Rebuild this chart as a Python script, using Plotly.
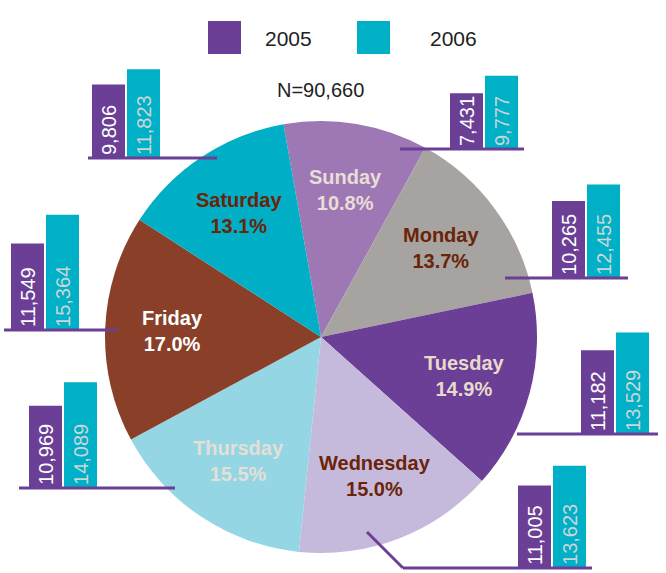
import math
import plotly.graph_objects as go

# ---------------- data ----------------
days = ["Sunday", "Monday", "Tuesday", "Wednesday", "Thursday", "Friday", "Saturday"]
share_pct = [10.8, 13.7, 14.9, 15.0, 15.5, 17.0, 13.1]
count_2005 = [7431, 10265, 11182, 11005, 10969, 11549, 9806]
count_2006 = [9777, 12455, 13529, 13623, 14089, 15364, 11823]
years = ["2005", "2006"]
total_n = 90660

# ---------------- style / layout ----------------
W, H = 666, 573
FONT = "Arial, Liberation Sans, sans-serif"
C2005 = "#6B3F96"
C2006 = "#00B0C7"
slice_colors = ["#9E77B5", "#A7A3A1", "#6B3F96", "#C6BADC", "#94D6E3", "#8A4028", "#00AFC6"]
label_colors = ["#E8DED4", "#6A2409", "#E6DBCA", "#6A2409", "#E4DFD7", "#FFFFFF", "#6A2409"]
PIE_CX, PIE_CY, PIE_R = 321, 337, 216
PIE_ROT = -10
LABEL_RF = 0.69

# bar-pair placement (pixel left edge, baseline) and leader-line points
pair_pos = {
    "Sunday":    dict(x0=449, base=149, line=[(400, 149), (524, 149)]),
    "Monday":    dict(x0=551, base=278, line=[(505, 278), (628, 278)]),
    "Tuesday":   dict(x0=580, base=434, line=[(517, 434), (658, 434)]),
    "Wednesday": dict(x0=517, base=568, line=[(367, 532), (403, 568), (592, 568)]),
    "Thursday":  dict(x0=28,  base=488, line=[(19, 488), (175, 488)]),
    "Friday":    dict(x0=10,  base=330, line=[(4, 330), (117, 330)]),
    "Saturday":  dict(x0=91,  base=158, line=[(88, 158), (217, 158)]),
}
PAIR_W = 70
PX_PER_UNIT = 0.0075
YMAX = 16000
BAR_H = YMAX * PX_PER_UNIT


def px(x):
    return x / W


def py(y):
    return 1 - y / H


fig = go.Figure()
layout_axes = {}

for i, d in enumerate(days):
    n = i + 1
    sfx = "" if n == 1 else str(n)
    pos = pair_pos[d]
    vals = [count_2005[i], count_2006[i]]
    fig.add_trace(go.Bar(
        x=years, y=vals,
        xaxis="x" + sfx, yaxis="y" + sfx,
        marker=dict(color=[C2005, C2006], line=dict(width=0)),
        text=[f"{v:,}" for v in vals],
        textposition="inside", insidetextanchor="start", textangle=-90,
        textfont=dict(family=FONT, size=20, color=["#FFFFFF", "#CDD5D5"]),
        constraintext="none", cliponaxis=False,
        showlegend=False, hoverinfo="skip",
    ))
    layout_axes["xaxis" + sfx] = dict(
        domain=[px(pos["x0"]), px(pos["x0"] + PAIR_W)], range=[-0.5, 1.5],
        visible=False, fixedrange=True, anchor="y" + sfx, type="category")
    layout_axes["yaxis" + sfx] = dict(
        domain=[py(pos["base"]), py(pos["base"] - BAR_H)], range=[0, YMAX],
        visible=False, fixedrange=True, anchor="x" + sfx)

fig.add_trace(go.Pie(
    labels=days, values=share_pct, sort=False, direction="clockwise",
    rotation=PIE_ROT, textinfo="none", hoverinfo="label+percent",
    marker=dict(colors=slice_colors, line=dict(width=0)),
    domain=dict(x=[px(PIE_CX - PIE_R), px(PIE_CX + PIE_R)],
                y=[py(PIE_CY + PIE_R), py(PIE_CY - PIE_R)]),
    showlegend=False,
))

annotations = []
shapes = []

# slice labels at slice mid-angles
total = sum(share_pct)
cum = 0.0
for i, d in enumerate(days):
    mid = PIE_ROT + (cum + share_pct[i] / 2) / total * 360
    cum += share_pct[i]
    a = math.radians(mid)
    lx = PIE_CX + LABEL_RF * PIE_R * math.sin(a)
    ly = PIE_CY - LABEL_RF * PIE_R * math.cos(a)
    annotations.append(dict(
        x=px(lx), y=py(ly), xref="paper", yref="paper", showarrow=False,
        xanchor="center", yanchor="middle",
        text=f"<b>{d}</b><br><b>{share_pct[i]:.1f}%</b>",
        font=dict(family=FONT, size=20, color=label_colors[i]), align="center"))

# leader lines
for d in days:
    pts = pair_pos[d]["line"]
    for (x0, y0), (x1, y1) in zip(pts[:-1], pts[1:]):
        shapes.append(dict(type="line", xref="paper", yref="paper",
                           x0=px(x0), y0=py(y0), x1=px(x1), y1=py(y1),
                           line=dict(color=C2005, width=3), layer="above"))

# N label
annotations.append(dict(x=px(320), y=py(90), xref="paper", yref="paper", showarrow=False,
                        xanchor="center", yanchor="middle",
                        text=f"N={total_n:,}", font=dict(family=FONT, size=20, color="#222222")))

# legend
leg = [(years[0], C2005, 208, 263), (years[1], C2006, 357, 428)]
for name, col, sx, tx in leg:
    shapes.append(dict(type="rect", xref="paper", yref="paper",
                       x0=px(sx), x1=px(sx + 33), y0=py(54), y1=py(21),
                       fillcolor=col, line=dict(width=0)))
    annotations.append(dict(x=px(tx), y=py(38), xref="paper", yref="paper", showarrow=False,
                            xanchor="left", yanchor="middle", text=name,
                            font=dict(family=FONT, size=21, color="#222222")))

fig.update_layout(
    width=W, height=H, margin=dict(l=0, r=0, t=0, b=0),
    paper_bgcolor="white", plot_bgcolor="white",
    bargap=0.057, showlegend=False,
    annotations=annotations, shapes=shapes,
    **layout_axes,
)

fig.write_html("out.html", config={"displayModeBar": False},
               post_script="document.body.style.margin='0';document.body.style.padding='0';")
